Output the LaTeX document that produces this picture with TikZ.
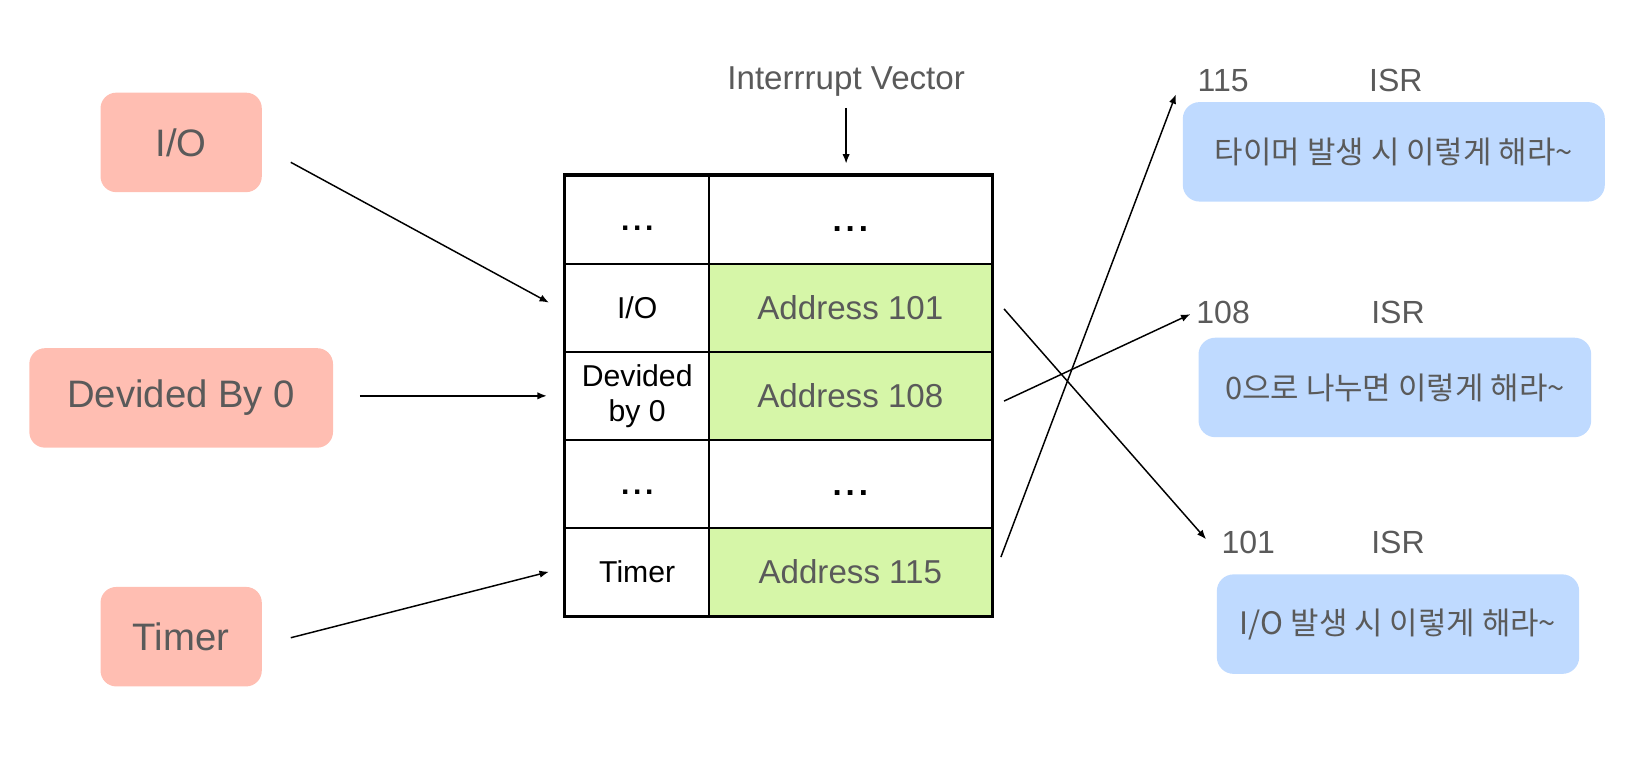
\documentclass[tikz,border=0pt]{standalone}
\usepackage{fontspec}
\setmainfont{Liberation Sans}
\newfontfamily\kor{Noto Sans CJK KR}
\usetikzlibrary{arrows.meta}
\definecolor{evpink}{RGB}{255,190,178}
\definecolor{isrblue}{RGB}{191,218,255}
\definecolor{addrgreen}{RGB}{214,246,168}
\definecolor{txtgray}{RGB}{90,90,90}
\newcommand{\skipdots}{\vphantom{A}\textbf{.\kern0.12em.\kern0.12em.}}

\begin{document}
\begin{tikzpicture}[x=0.1mm,y=-0.1mm,
  ev/.style={rounded corners=1.5mm,fill=evpink,text=txtgray,minimum height=9.5mm,
    font=\fontsize{10.4}{12}\selectfont},
  cell/.style={draw,line width=0.45pt,minimum height=8.4mm,inner sep=0pt,align=center,
    font=\fontsize{8.2}{9.5}\selectfont},
  keycell/.style={cell,minimum width=13.7mm},
  addrcell/.style={cell,minimum width=27mm,font=\fontsize{9}{11}\selectfont},
  green/.style={fill=addrgreen,text=txtgray},
  num/.style={inner sep=0pt,text=txtgray,font=\fontsize{8.7}{10}\selectfont},
  isr/.style={rounded corners=1.6mm,fill=isrblue,text=txtgray,minimum height=9.5mm,
    font=\kor\fontsize{8.4}{10}\selectfont},
  arr/.style={-{Latex[length=0.9mm,width=0.7mm]},line width=0.4pt}]
\useasboundingbox (0,0) rectangle (1568,730);

% interrupt sources
\node[ev,minimum width=15.4mm] (io) at (173,136) {I/O};
\node[ev,minimum width=29mm] (div) at (173,380) {Devided By 0};
\node[ev,minimum width=15.4mm] (timer) at (173,608) {Timer};

% the vector table
\node[num,font=\fontsize{9}{11}\selectfont] (iv) at (808,78) {Interrrupt Vector};
\node[keycell] (k1) at (608.5,210) {\skipdots};
\node[keycell] (k2) at (608.5,294) {I/O};
\node[keycell] (k3) at (608.5,378) {Devided\\by 0};
\node[keycell] (k4) at (608.5,462) {\skipdots};
\node[keycell] (k5) at (608.5,546) {Timer};
\node[addrcell] (a1) at (812,210) {\skipdots};
\node[addrcell,green] (a2) at (812,294) {Address 101};
\node[addrcell,green] (a3) at (812,378) {Address 108};
\node[addrcell] (a4) at (812,462) {\skipdots};
\node[addrcell,green] (a5) at (812,546) {Address 115};
\draw[line width=0.9pt] (k1.north west) rectangle (a5.south east);

% service routines
\node[num] (n115) at (1168,77) {115};
\node[num] (s115) at (1333,77) {ISR};
\node[isr,minimum width=40.3mm] (isr115) at (1331,145) {타이머 발생 시 이렇게 해라\textasciitilde};
\node[num] (n108) at (1168,298) {108};
\node[num] (s108) at (1335,298) {ISR};
\node[isr,minimum width=37.5mm] (isr108) at (1332,370) {0으로 나누면 이렇게 해라\textasciitilde};
\node[num] (n101) at (1192,518) {101};
\node[num] (s101) at (1335,518) {ISR};
\node[isr,minimum width=34.6mm] (isr101) at (1335,596) {I/O 발생 시 이렇게 해라\textasciitilde};

% connectors
\draw[arr,shorten >=1.1mm] (iv) ++(0,25) -- (iv |- a1.north);
\draw[arr] ([shift={(27,19)}]io.east) -- ([shift={(-15,-5)}]k2.west);
\draw[arr] ([shift={(25,-2)}]div.east) -- ([shift={(-17,0)}]k3.west);
\draw[arr] ([shift={(27,1)}]timer.east) -- ([shift={(-15,0)}]k5.west);
\draw[arr] ([shift={(11,1)}]a2.east) -- ([shift={(-14,-3)}]n101.west);
\draw[arr] ([shift={(11,5)}]a3.east) -- ([shift={(-5,2)}]n108.west);
\draw[arr] ([shift={(8,-14)}]a5.east) -- ([shift={(-20,13)}]n115.west);
\end{tikzpicture}
\end{document}
